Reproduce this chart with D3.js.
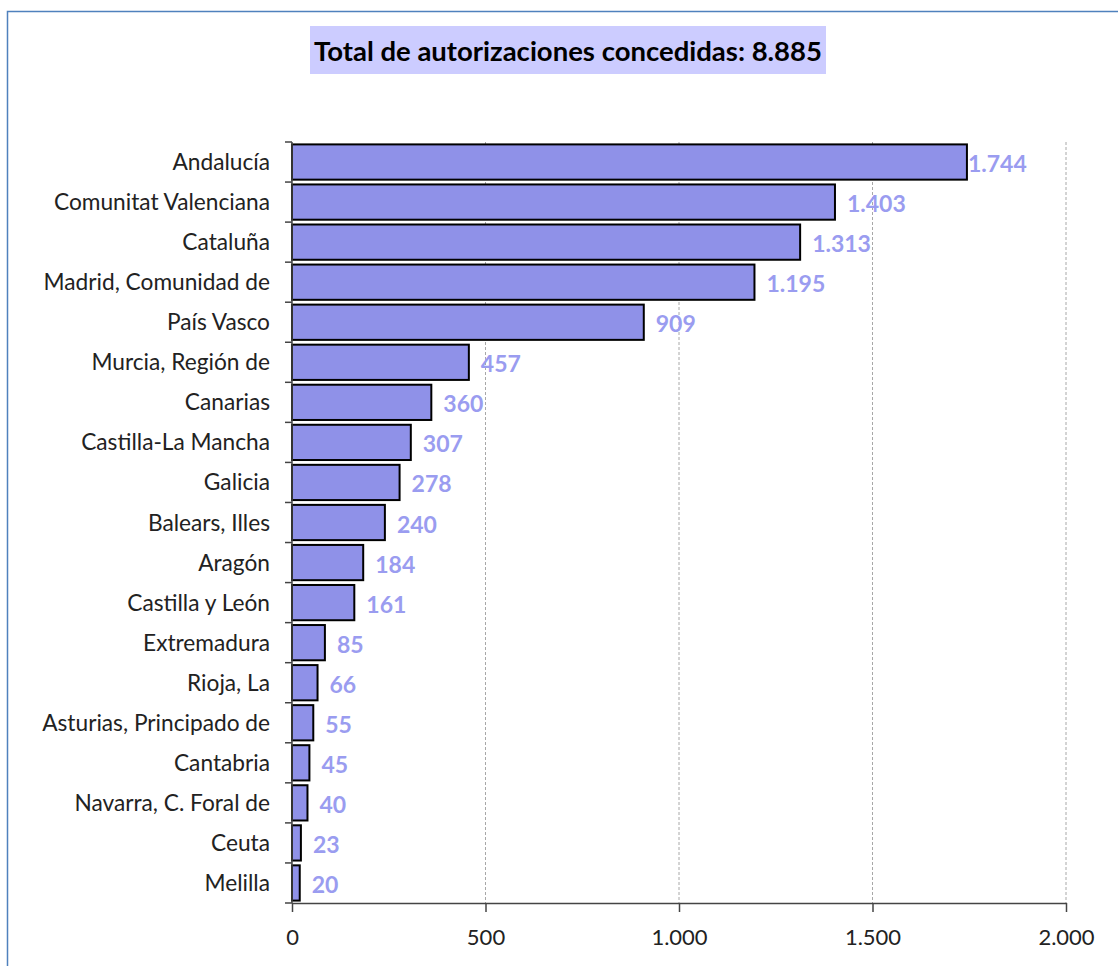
<!DOCTYPE html>
<meta charset="utf-8">
<style>
body { margin: 0; background: #fff; }
text { font-family: Lato, "Noto Sans", sans-serif; }
.grid line { stroke: #a8a8a8; stroke-dasharray: 3,2; }
.bar { fill: #8f91e8; stroke: #000; stroke-width: 2; }
.val { fill: #9a9cf0; font-weight: bold; font-size: 23px; }
.axis text { font-size: 22px; fill: #222; }
.axis .lbl { font-size: 22.7px; }
.axis path, .axis line { stroke: #444; stroke-width: 1.5; }
</style>
<body>
<div id="chart"></div>
<script src="https://d3js.org/d3.v7.min.js"></script>
<script>
// regions, ordered as they appear top to bottom
var regions = ["Andalucía", "Comunitat Valenciana", "Cataluña", "Madrid, Comunidad de",
  "País Vasco", "Murcia, Región de", "Canarias", "Castilla-La Mancha", "Galicia",
  "Balears, Illes", "Aragón", "Castilla y León", "Extremadura", "Rioja, La",
  "Asturias, Principado de", "Cantabria", "Navarra, C. Foral de", "Ceuta", "Melilla"];
var values = [1744, 1403, 1313, 1195, 909, 457, 360, 307, 278, 240, 184, 161, 85, 66, 55, 45, 40, 23, 20];
var xTicks = [0, 500, 1000, 1500, 2000];
var titleText = "Total de autorizaciones concedidas: 8.885";

var W = 1118, H = 966;
var margin = {top: 142, right: 52, bottom: 63, left: 292};
var width = W - margin.left - margin.right,
    height = H - margin.top - margin.bottom;

// number format with "." thousands separator
var fmt = function(v) { return d3.format(",")(v).replace(/,/g, "."); };

var svg = d3.select("#chart").append("svg")
    .attr("width", W)
    .attr("height", H);

// outer frame
svg.append("rect")
    .attr("x", 7.5).attr("y", 11.5)
    .attr("width", W + 20).attr("height", H + 20)
    .attr("fill", "none")
    .attr("stroke", "#4f81bd")
    .attr("stroke-width", 1.5);

// title with shaded box
var title = svg.append("g");
title.append("rect")
    .attr("x", 310).attr("y", 26)
    .attr("width", 516).attr("height", 48)
    .attr("fill", "#ccccff");
title.append("text")
    .attr("x", 568).attr("y", 61)
    .attr("text-anchor", "middle")
    .style("font-size", "27.5px")
    .style("font-weight", "bold")
    .text(titleText);

var g = svg.append("g")
    .attr("transform", "translate(" + margin.left + "," + margin.top + ")");

var x = d3.scaleLinear().domain([0, 2000]).range([0, width]);
var y = d3.scaleBand().domain(regions).range([0, height]).paddingInner(0.12).paddingOuter(0.06);

// vertical dashed gridlines
g.append("g").attr("class", "grid")
  .selectAll("line")
  .data(xTicks.slice(1))
  .enter().append("line")
    .attr("x1", function(d) { return x(d); })
    .attr("x2", function(d) { return x(d); })
    .attr("y1", 0)
    .attr("y2", height);

// bars
g.selectAll(".bar")
    .data(values)
  .enter().append("rect")
    .attr("class", "bar")
    .attr("x", x(0))
    .attr("y", function(d, i) { return y(regions[i]); })
    .attr("width", function(d) { return x(d) - x(0); })
    .attr("height", y.bandwidth());

// value labels (pulled in against the bar when they would run too far right)
g.selectAll(".val")
    .data(values)
  .enter().append("text")
    .attr("class", "val")
    .attr("x", function(d) { return x(d) > x(1700) ? x(d) + 1 : x(d) + 12; })
    .attr("y", function(d, i) { return y(regions[i]) + y.bandwidth() / 2 + 10; })
    .text(function(d) { return fmt(d); });

// x axis
g.append("g")
    .attr("class", "axis")
    .attr("transform", "translate(0," + height + ")")
    .call(d3.axisBottom(x).tickValues(xTicks).tickFormat(fmt).tickSize(9).tickSizeOuter(0).tickPadding(17));

// y axis: labels centred in band, tick marks at band edges
var yAxis = g.append("g").attr("class", "axis");
yAxis.append("line")
    .attr("x1", 0).attr("x2", 0)
    .attr("y1", 0).attr("y2", height);
var step = y.step();
yAxis.selectAll(".edge")
    .data(d3.range(regions.length + 1))
  .enter().append("line")
    .attr("class", "edge")
    .attr("x1", -7).attr("x2", 0)
    .attr("y1", function(i) { return y(regions[0]) - y.paddingInner() * step / 2 + i * step; })
    .attr("y2", function(i) { return y(regions[0]) - y.paddingInner() * step / 2 + i * step; });
yAxis.selectAll(".lbl")
    .data(regions)
  .enter().append("text")
    .attr("class", "lbl")
    .attr("x", -22)
    .attr("y", function(d) { return y(d) + y.bandwidth() / 2 + 8; })
    .attr("text-anchor", "end")
    .text(function(d) { return d; });
</script>
</body>
